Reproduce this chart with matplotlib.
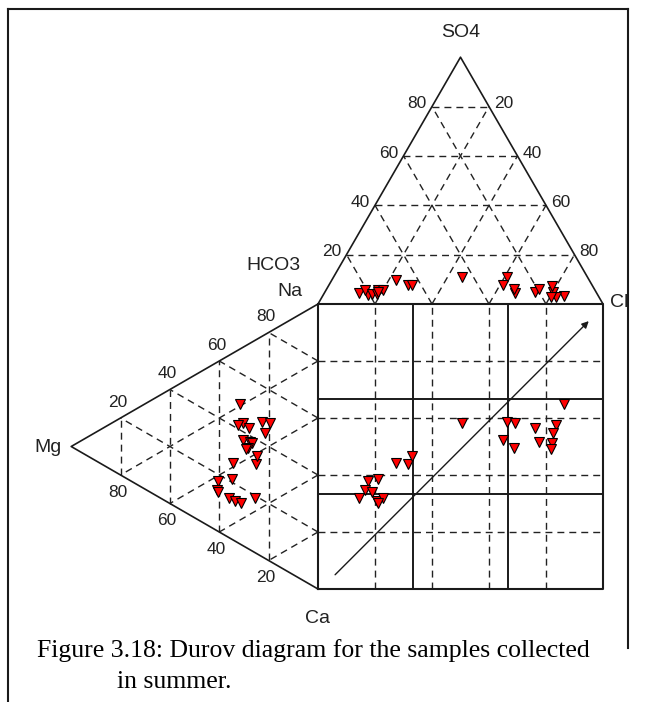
import numpy as np
import matplotlib
matplotlib.use("Agg")
import matplotlib.pyplot as plt

# Anion composition of each sample (% of total anions, meq/L)
hco3 = [12.1, 28.3, 28.6, 44.1, 15.1, 21.4, 15.1, 31.2, 19.4, 14.2, 28.2, 16.8,
        67.8, 64.6, 63.2,
        83.4, 80.7, 76.1, 80.7, 79.0, 77.2, 74.3, 76.4]
so4 = [3.2, 10.9, 4.5, 10.9, 2.8, 4.9, 4.9, 7.7, 6.1, 7.3, 6.1, 2.8,
       9.7, 7.7, 7.7,
       4.5, 3.6, 5.7, 5.7, 4.1, 4.1, 5.7, 4.9]
cl = [84.7, 60.8, 66.9, 45.0, 82.1, 73.7, 80.0, 61.1, 74.5, 78.5, 65.7, 80.4,
      22.5, 27.7, 29.1,
      12.1, 15.7, 18.2, 13.6, 16.9, 18.7, 20.0, 18.7]

# Cation composition of each sample (% of total cations, meq/L)
ca = [19.3, 30.0, 32.1, 26.6, 26.3, 29.5, 34.5, 32.5, 34.6, 35.4, 36.3, 36.3,
      38.6, 43.6, 41.0,
      50.0, 41.9, 44.0, 44.8, 45.7, 52.3, 55.3, 54.2]
mg = [31.6, 22.7, 19.4, 30.4, 32.4, 28.0, 21.5, 30.4, 27.6, 26.7, 28.4, 29.2,
      34.4, 25.1, 24.7,
      36.1, 40.5, 34.8, 40.9, 40.5, 33.6, 25.5, 31.2]
na = [49.1, 47.3, 48.5, 43.0, 41.3, 42.5, 44.0, 37.1, 37.8, 37.9, 35.3, 34.5,
      27.0, 31.3, 34.3,
      13.9, 17.6, 21.2, 14.3, 13.8, 14.1, 19.2, 14.6]

grid_levels = [20, 40, 60, 80]
tick_labels = ["20", "40", "60", "80"]
solid_levels = [100 / 3, 200 / 3]

H = np.sqrt(3) / 2
LINE = "#1a1a1a"
DASH = dict(color="#222222", lw=1.0, dashes=(5, 3.6))


def top_xy(s, c):
    """Anion triangle sitting on top of the square (HCO3 left, Cl right, SO4 apex)."""
    s = np.asarray(s, float)
    c = np.asarray(c, float)
    return c + s / 2, 100 + s * H


def left_xy(m, n):
    """Cation triangle left of the square (Ca bottom, Na top, Mg apex)."""
    m = np.asarray(m, float)
    n = np.asarray(n, float)
    return -m * H, n + m / 2


fig = plt.figure(figsize=(6.45, 7.02), dpi=100)
ax = fig.add_axes([0, 0, 1, 1])
ax.set_xlim(-111.58, 114.74)
ax.set_ylim(-39.65, 206.67)
ax.axis("off")

# outer frame
ax.plot([-108.8, 108.8], [203.5, 203.5], color=LINE, lw=1.5)
ax.plot([-108.8, -108.8], [203.5, -39.65], color=LINE, lw=1.5)
ax.plot([108.8, 108.8], [203.5, -20.7], color=LINE, lw=1.5)

# ---- grids -------------------------------------------------------------
for v in grid_levels:
    # anion triangle
    for a, b in [((v, 0), (v, 100 - v)),            # constant SO4
                 ((0, v), (100 - v, v)),            # constant Cl
                 ((0, 100 - v), (100 - v, 0))]:     # constant HCO3
        x, y = top_xy([a[0], b[0]], [a[1], b[1]])
        ax.plot(x, y, **DASH)
    # cation triangle
    for a, b in [((v, 0), (v, 100 - v)),            # constant Mg
                 ((0, v), (100 - v, v)),            # constant Na
                 ((0, 100 - v), (100 - v, 0))]:     # constant Ca
        x, y = left_xy([a[0], b[0]], [a[1], b[1]])
        ax.plot(x, y, **DASH)
    # square
    ax.plot([v, v], [0, 100], **DASH)
    ax.plot([0, 100], [v, v], **DASH)

for v in solid_levels:
    ax.plot([v, v], [0, 100], color=LINE, lw=1.4)
    ax.plot([0, 100], [v, v], color=LINE, lw=1.4)

# ---- outlines ----------------------------------------------------------
ax.plot([0, 100, 100, 0, 0], [0, 0, 100, 100, 0], color=LINE, lw=1.5)
tx, ty = top_xy([0, 0, 100, 0], [0, 100, 0, 0])
ax.plot(tx, ty, color=LINE, lw=1.2)
lx, ly = left_xy([0, 0, 100, 0], [0, 100, 0, 0])
ax.plot(lx, ly, color=LINE, lw=1.2)

# diagonal arrow across the square
ax.annotate("", xy=(95, 94), xytext=(6, 5),
            arrowprops=dict(arrowstyle="-|>", color=LINE, lw=1.0,
                            mutation_scale=10, shrinkA=0, shrinkB=0))

# ---- tick labels -------------------------------------------------------
tfont = dict(fontsize=12.5, family="Liberation Sans", color="#222222")
for v, lab in zip(grid_levels, tick_labels):
    x, y = top_xy(v, 0)
    ax.text(x - 1.8, y + 1.0, lab, ha="right", va="center", **tfont)
    x, y = top_xy(100 - v, v)
    ax.text(x + 1.8, y + 1.0, lab, ha="left", va="center", **tfont)
    x, y = left_xy(100 - v, v)
    ax.text(x - 1.0, y + 5.6, lab, ha="center", va="center", **tfont)
    x, y = left_xy(v, 0)
    ax.text(x - 1.0, y - 6.0, lab, ha="center", va="center", **tfont)

# ---- axis names --------------------------------------------------------
nfont = dict(fontsize=14, family="Liberation Sans", color="#222222")
ax.text(50, 195.4, "SO4", ha="center", va="center", **nfont)
ax.text(102.3, 100.4, "Cl", ha="left", va="center", **nfont)
ax.text(-6.0, 113.5, "HCO3", ha="right", va="center", **nfont)
ax.text(-5.6, 104.5, "Na", ha="right", va="center", **nfont)
ax.text(-89.8, 49.5, "Mg", ha="right", va="center", **nfont)
ax.text(-0.3, -10.2, "Ca", ha="center", va="center", **nfont)

# ---- samples -----------------------------------------------------------
an_tot = np.add(np.add(hco3, so4), cl)
ca_tot = np.add(np.add(ca, mg), na)
s_p = np.asarray(so4) / an_tot * 100
c_p = np.asarray(cl) / an_tot * 100
m_p = np.asarray(mg) / ca_tot * 100
n_p = np.asarray(na) / ca_tot * 100

mk = dict(ls="none", marker="v", ms=7.5, mfc="#ff0000", mec="black",
          mew=0.8, zorder=5)
px, py = top_xy(s_p, c_p)
ax.plot(px, py, **mk)
qx, qy = left_xy(m_p, n_p)
ax.plot(qx, qy, **mk)
ax.plot(c_p + s_p / 2, n_p + m_p / 2, **mk)

# ---- caption -----------------------------------------------------------
cfont = dict(fontsize=18.5, family="Liberation Serif", color="black")
ax.text(-98.6, -21.6, "Figure 3.18: Durov diagram for the samples collected",
        ha="left", va="center", **cfont)
ax.text(-70.5, -32.8, "in summer.", ha="left", va="center", **cfont)

fig.savefig("out.png", dpi=100)
